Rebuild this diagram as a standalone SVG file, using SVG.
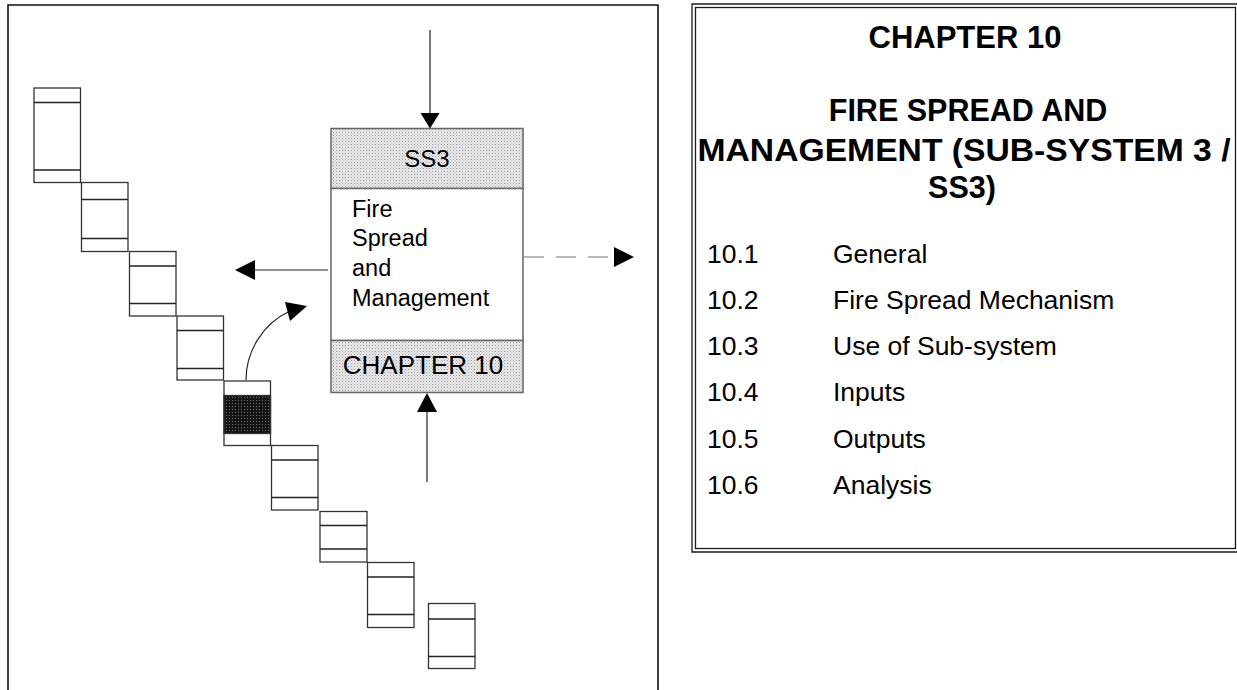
<svg xmlns="http://www.w3.org/2000/svg" width="1237" height="690" viewBox="0 0 1237 690">
<defs>
<pattern id="lightDots" width="3" height="3" patternUnits="userSpaceOnUse">
<rect width="3" height="3" fill="#ebebeb"/>
<rect x="0" y="0" width="1" height="1" fill="#9a9a9a"/>
<rect x="1.5" y="1.5" width="1" height="1" fill="#b0b0b0"/>
</pattern>
<pattern id="darkDots" width="3" height="3" patternUnits="userSpaceOnUse">
<rect width="3" height="3" fill="#151515"/>
<rect x="1" y="1" width="1" height="1" fill="#707070"/>
</pattern>
<style>
.frame{fill:none;stroke:#111;stroke-width:1.6}
.dbl{fill:none;stroke:#1a1a1a;stroke-width:1.3}
.step{fill:#fff;stroke:#333;stroke-width:1.3}
.sep{stroke:#222;stroke-width:1.3}
.box{stroke:#666;stroke-width:1.5}
.line{stroke:#222;stroke-width:1.2;fill:none}
.dash{stroke:#777;stroke-width:1.2;stroke-dasharray:20 12;fill:none}
.head{fill:#000}
.t{font-family:"Liberation Sans",Arial,Helvetica,sans-serif;fill:#000}
.b{font-weight:bold}
</style>
</defs>

<g id="left-frame">
<path class="frame" d="M8,690 V5 H658 V690"/>
</g>

<g id="right-panel">
<path class="dbl" d="M1237,4 H692 V552 H1237"/>
<rect class="dbl" x="695.5" y="7.5" width="540" height="541"/>
<text class="t b" x="965" y="48" font-size="31" text-anchor="middle">CHAPTER 10</text>
<text class="t b" x="968" y="121" font-size="30.5" text-anchor="middle">FIRE SPREAD AND</text>
<text class="t b" x="964" y="161" font-size="31" text-anchor="middle" textLength="533" lengthAdjust="spacingAndGlyphs">MANAGEMENT (SUB-SYSTEM 3 /</text>
<text class="t b" x="962" y="198" font-size="30.5" text-anchor="middle">SS3)</text>
<g font-size="26.5" class="t">
<text class="t" x="707" y="263">10.1</text><text class="t" x="833" y="263">General</text>
<text class="t" x="707" y="309">10.2</text><text class="t" x="833" y="309">Fire Spread Mechanism</text>
<text class="t" x="707" y="355">10.3</text><text class="t" x="833" y="355">Use of Sub-system</text>
<text class="t" x="707" y="401">10.4</text><text class="t" x="833" y="401">Inputs</text>
<text class="t" x="707" y="448">10.5</text><text class="t" x="833" y="448">Outputs</text>
<text class="t" x="707" y="494">10.6</text><text class="t" x="833" y="494">Analysis</text>
</g>
</g>

<g id="step1"><rect class="step" x="34" y="88" width="46.5" height="94.5"/><path class="sep" d="M34,102.5 H80.5 M34,170 H80.5"/></g>
<g id="step2"><rect class="step" x="81.5" y="182.5" width="46.5" height="69"/><path class="sep" d="M81.5,199.5 H128 M81.5,238.5 H128"/></g>
<g id="step3"><rect class="step" x="129.5" y="251.5" width="46.5" height="64.5"/><path class="sep" d="M129.5,266 H176 M129.5,303.5 H176"/></g>
<g id="step4"><rect class="step" x="177" y="316" width="46.5" height="64"/><path class="sep" d="M177,330.5 H223.5 M177,368.5 H223.5"/></g>
<g id="step5"><rect class="step" x="224" y="381" width="46.5" height="64.5"/><rect x="224" y="395.5" width="46.5" height="38" fill="url(#darkDots)" stroke="#333" stroke-width="1.3"/></g>
<g id="step6"><rect class="step" x="271.5" y="445.5" width="46.5" height="64.5"/><path class="sep" d="M271.5,460 H318 M271.5,497.5 H318"/></g>
<g id="step7"><rect class="step" x="320" y="511.5" width="47" height="50.5"/><path class="sep" d="M320,525.5 H367 M320,549 H367"/></g>
<g id="step8"><rect class="step" x="367.5" y="562.5" width="46.5" height="65"/><path class="sep" d="M367.5,577 H414 M367.5,614.5 H414"/></g>
<g id="step9"><rect class="step" x="428.5" y="603.5" width="46.5" height="65"/><path class="sep" d="M428.5,619 H475 M428.5,656.5 H475"/></g>

<g id="ss3-box">
<rect x="331" y="128.5" width="192" height="60" fill="url(#lightDots)" class="box"/>
<rect x="331" y="188.5" width="192" height="152" fill="#fff" class="box"/>
<rect x="331" y="340.5" width="192" height="52" fill="url(#lightDots)" class="box"/>
<text class="t" x="427" y="167" font-size="24" text-anchor="middle">SS3</text>
<text class="t" x="352" y="217" font-size="23.5">Fire</text>
<text class="t" x="352" y="246" font-size="23.5">Spread</text>
<text class="t" x="352" y="276" font-size="23.5">and</text>
<text class="t" x="352" y="306" font-size="23.5">Management</text>
<text class="t" x="423" y="374" font-size="26" text-anchor="middle">CHAPTER 10</text>
</g>

<g id="connectors">
<line class="line" x1="430" y1="30" x2="430" y2="114"/>
<polygon class="head" points="420.5,113 439.5,113 430,128.5"/>
<line class="line" x1="427" y1="482" x2="427" y2="410"/>
<polygon class="head" points="417,412 437,412 427,393"/>
<line class="line" x1="328" y1="270" x2="254" y2="270"/>
<polygon class="head" points="255,260 255,280 235,270"/>
<line class="dash" x1="524" y1="257" x2="614" y2="257"/>
<polygon class="head" points="614,247 614,267 634,257"/>
<path class="line" d="M246,380 C246,352 262,324 290,311"/>
<polygon class="head" points="307,306 285,302 290,321"/>
</g>
</svg>
